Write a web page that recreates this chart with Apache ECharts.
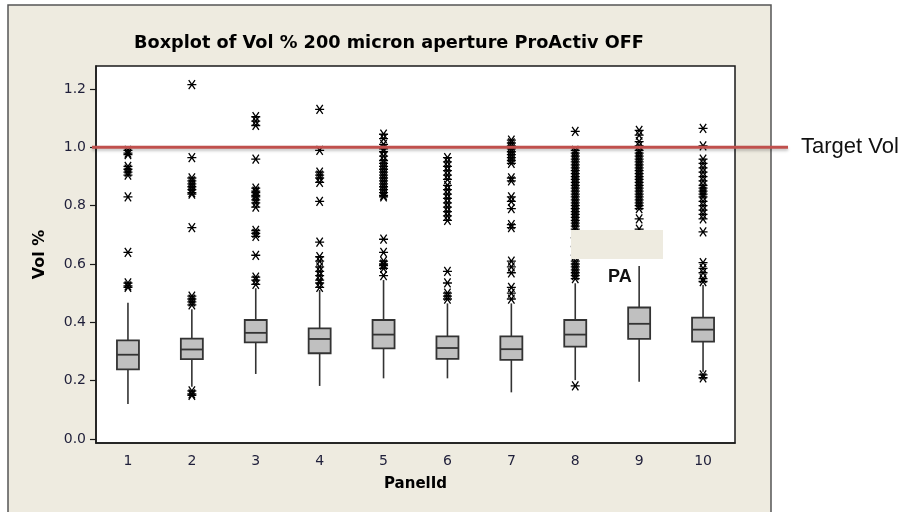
<!DOCTYPE html>
<html>
<head>
<meta charset="utf-8">
<style>
  html, body { margin: 0; padding: 0; background: #ffffff; }
  #chart { width: 908px; height: 512px; }
</style>
<script src="https://cdn.jsdelivr.net/npm/echarts@6/dist/echarts.min.js"></script>
</head>
<body>
<div id="chart"></div>
<script>
// Panel identifiers along the x axis
const categories = ['1', '2', '3', '4', '5', '6', '7', '8', '9', '10'];

// Five-number summaries per panel (whisker ends, quartiles, median), Vol %
const whiskerLow  = [0.120, 0.179, 0.223, 0.182, 0.208, 0.208, 0.160, 0.202, 0.196, 0.231];
const quartile1   = [0.239, 0.274, 0.331, 0.294, 0.311, 0.275, 0.271, 0.317, 0.343, 0.334];
const medians     = [0.289, 0.307, 0.364, 0.343, 0.358, 0.312, 0.308, 0.358, 0.395, 0.375];
const quartile3   = [0.338, 0.344, 0.408, 0.379, 0.408, 0.352, 0.352, 0.408, 0.451, 0.416];
const whiskerHigh = [0.467, 0.445, 0.517, 0.511, 0.545, 0.465, 0.465, 0.534, 0.593, 0.528];

// Outlying observations per panel
const outliers1  = [0.99, 0.98, 0.975, 0.935, 0.925, 0.915, 0.905, 0.83, 0.64, 0.535, 0.525, 0.52];
const outliers2  = [1.215, 0.965, 0.895, 0.885, 0.875, 0.865, 0.855, 0.845, 0.84, 0.725, 0.49, 0.48, 0.47, 0.46, 0.165, 0.155, 0.15];
const outliers3  = [1.105, 1.09, 1.075, 0.96, 0.86, 0.85, 0.845, 0.835, 0.83, 0.82, 0.81, 0.795, 0.715, 0.705, 0.695, 0.63, 0.555, 0.545, 0.53];
const outliers4  = [1.13, 0.99, 0.915, 0.905, 0.895, 0.88, 0.815, 0.675, 0.625, 0.61, 0.59, 0.575, 0.56, 0.545, 0.535, 0.52];
const outliers5  = [1.045, 1.03, 1.01, 0.995, 0.985, 0.97, 0.955, 0.945, 0.935, 0.925, 0.915, 0.905, 0.895, 0.885, 0.875, 0.865, 0.855, 0.845, 0.835, 0.83, 0.685, 0.64, 0.61, 0.6, 0.595, 0.585, 0.56];
const outliers6  = [0.965, 0.95, 0.935, 0.92, 0.905, 0.89, 0.87, 0.855, 0.84, 0.825, 0.81, 0.795, 0.78, 0.765, 0.75, 0.575, 0.535, 0.5, 0.49, 0.48];
const outliers7  = [1.025, 1.015, 1.005, 0.995, 0.985, 0.975, 0.965, 0.955, 0.945, 0.895, 0.885, 0.83, 0.815, 0.79, 0.735, 0.725, 0.61, 0.59, 0.57, 0.52, 0.5, 0.48];
const outliers8  = [1.055, 0.99, 0.98, 0.97, 0.96, 0.95, 0.94, 0.93, 0.92, 0.91, 0.9, 0.89, 0.88, 0.87, 0.86, 0.85, 0.84, 0.83, 0.82, 0.81, 0.8, 0.79, 0.78, 0.77, 0.76, 0.75, 0.74, 0.73, 0.72, 0.69, 0.66, 0.63, 0.61, 0.6, 0.59, 0.58, 0.57, 0.56, 0.55, 0.182];
const outliers9  = [1.058, 1.042, 1.02, 1.005, 0.99, 0.98, 0.97, 0.96, 0.95, 0.94, 0.93, 0.92, 0.91, 0.9, 0.89, 0.88, 0.87, 0.86, 0.85, 0.84, 0.83, 0.82, 0.81, 0.8, 0.79, 0.755, 0.72, 0.68, 0.64];
const outliers10 = [1.065, 1.005, 0.96, 0.945, 0.93, 0.915, 0.9, 0.885, 0.87, 0.86, 0.85, 0.84, 0.83, 0.815, 0.8, 0.785, 0.77, 0.755, 0.71, 0.605, 0.585, 0.57, 0.55, 0.54, 0.22, 0.21];
const outlierLists = [outliers1, outliers2, outliers3, outliers4, outliers5,
                      outliers6, outliers7, outliers8, outliers9, outliers10];

// Y axis tick labels and reference value
const yTicks = [0.0, 0.2, 0.4, 0.6, 0.8, 1.0, 1.2];
const targetVol = 1.0;

const titleText = 'Boxplot of Vol % 200 micron aperture ProActiv OFF';

// Build series data from the arrays above
const boxData = categories.map((c, i) =>
  [i, whiskerLow[i], quartile1[i], medians[i], quartile3[i], whiskerHigh[i]]);
const outlierData = [];
outlierLists.forEach((list, i) => list.forEach(v => outlierData.push([i, v])));

const chart = echarts.init(document.getElementById('chart'), null, { renderer: 'canvas' });

const axisFont = 'DejaVu Sans';
const ink = '#1a1a1a';

function renderBox(params, api) {
  const idx = api.value(0);
  const xc = api.coord([idx, 0])[0];
  const yLo = api.coord([idx, api.value(1)])[1];
  const yQ1 = api.coord([idx, api.value(2)])[1];
  const yMed = api.coord([idx, api.value(3)])[1];
  const yQ3 = api.coord([idx, api.value(4)])[1];
  const yHi = api.coord([idx, api.value(5)])[1];
  const half = 11;
  const lineStyle = { stroke: '#333333', lineWidth: 1.6, fill: null };
  return {
    type: 'group',
    children: [
      { type: 'line', shape: { x1: xc, y1: yQ3, x2: xc, y2: yHi }, style: lineStyle },
      { type: 'line', shape: { x1: xc, y1: yQ1, x2: xc, y2: yLo }, style: lineStyle },
      { type: 'rect', shape: { x: xc - half, y: yQ3, width: half * 2, height: yQ1 - yQ3 },
        style: { fill: '#c0c0c0', stroke: '#333333', lineWidth: 1.8 } },
      { type: 'line', shape: { x1: xc - half, y1: yMed, x2: xc + half, y2: yMed },
        style: { stroke: '#333333', lineWidth: 1.8 } }
    ]
  };
}

chart.setOption({
  animation: false,
  backgroundColor: 'transparent',
  grid: {
    left: 96, top: 66, width: 639, height: 377,
    show: true, backgroundColor: '#ffffff', borderColor: ink, borderWidth: 1.5,
    containLabel: false
  },
  xAxis: {
    type: 'category',
    data: categories,
    boundaryGap: true,
    name: 'PanelId',
    nameLocation: 'middle',
    nameGap: 34,
    nameTextStyle: { fontFamily: axisFont, fontWeight: 'bold', fontSize: 15, color: '#000' },
    axisLine: { onZero: false, lineStyle: { color: ink, width: 1.5 } },
    axisTick: { alignWithLabel: true, length: 6, lineStyle: { color: ink, width: 1.2 } },
    axisLabel: { fontFamily: axisFont, fontSize: 14, color: '#1f1f3a', margin: 11 },
    splitLine: { show: false }
  },
  yAxis: {
    type: 'value',
    min: -0.0137,
    max: 1.279,
    name: 'Vol %',
    nameLocation: 'middle',
    nameRotate: 90,
    nameGap: 48,
    nameTextStyle: { fontFamily: axisFont, fontWeight: 'bold', fontSize: 16, color: '#000' },
    axisLine: { show: true, onZero: false, lineStyle: { color: ink, width: 1.5 } },
    axisTick: { show: true, length: 6, customValues: yTicks, lineStyle: { color: ink, width: 1.2 } },
    axisLabel: {
      fontFamily: axisFont, fontSize: 14, color: '#1f1f3a', margin: 10,
      customValues: yTicks,
      formatter: v => v.toFixed(1)
    },
    splitLine: { show: false }
  },
  series: [
    {
      type: 'custom',
      renderItem: renderBox,
      data: boxData,
      encode: { x: 0, y: [1, 2, 3, 4, 5] },
      silent: true,
      z: 3
    },
    {
      type: 'scatter',
      data: outlierData,
      symbol: 'path://M0,5L10,5M1.5,1.5L8.5,8.5M8.5,1.5L1.5,8.5',
      symbolSize: 9,
      itemStyle: { color: 'rgba(0,0,0,0)', borderColor: '#000000', borderWidth: 1.3, opacity: 1 },
      silent: true,
      z: 4
    }
  ]
});

// Frame, title and annotations, placed after the axes are laid out
const yTarget = chart.convertToPixel({ yAxisIndex: 0 }, targetVol);
chart.setOption({
  graphic: [
    {
      type: 'rect', z: -10, silent: true,
      shape: { x: 8, y: 5, width: 763, height: 520 },
      style: { fill: '#eeebe0', stroke: '#555555', lineWidth: 1.5 }
    },
    {
      type: 'text', z: 10, silent: true,
      x: 389, y: 43,
      style: {
        text: titleText, fontFamily: axisFont, fontWeight: 'bold', fontSize: 17.7,
        fill: '#000', align: 'center', verticalAlign: 'middle'
      }
    },
    {
      type: 'line', z: 50, silent: true,
      shape: { x1: 92, y1: yTarget, x2: 788, y2: yTarget },
      style: {
        stroke: '#c0504d', lineWidth: 3,
        shadowColor: 'rgba(0,0,0,0.25)', shadowBlur: 3, shadowOffsetY: 2
      }
    },
    {
      type: 'text', z: 50, silent: true,
      x: 801, y: yTarget,
      style: {
        text: 'Target Vol', fontFamily: 'Liberation Sans', fontSize: 22,
        fill: '#111', align: 'left', verticalAlign: 'middle'
      }
    },
    {
      type: 'rect', z: 50, silent: true,
      shape: { x: 571, y: 230, width: 92, height: 29 },
      style: { fill: '#eeebe0' }
    },
    {
      type: 'text', z: 50, silent: true,
      x: 608, y: 277,
      style: {
        text: 'PA', fontFamily: 'Liberation Sans', fontWeight: 'bold', fontSize: 18,
        fill: '#111', align: 'left', verticalAlign: 'middle'
      }
    }
  ]
});
</script>
</body>
</html>
